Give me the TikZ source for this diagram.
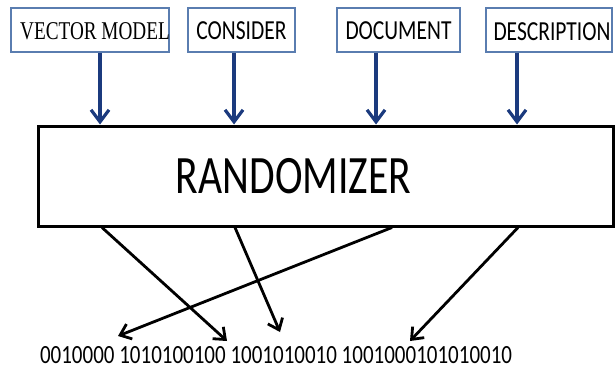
\documentclass[tikz,border=0pt]{standalone}
\usepackage{fontspec}
\setmainfont{Carlito}
\newfontfamily\serifc{Liberation Serif}
\usetikzlibrary{arrows.meta}
\definecolor{boxblue}{HTML}{5A7DB0}
\definecolor{arrblue}{HTML}{1B3A7E}
\newcommand{\toptxt}[1]{\fontsize{21.5}{21.5}\selectfont\scalebox{1}[1.28]{#1}}
\begin{document}
\begin{tikzpicture}[x=1pt,y=-1pt,
  inbox/.style={draw=boxblue,line width=1.5pt,minimum width=#1,minimum height=44pt,inner sep=0pt,text depth=0pt},
  bigbox/.style={draw=black,line width=3pt,minimum width=575pt,minimum height=100pt,inner sep=0pt},
  barrow/.style={draw=arrblue,line width=3.2pt,-{Straight Barb[length=12pt,width=18pt]}},
  karrow/.style={draw=black,line width=2.8pt,-{Straight Barb[length=10pt,width=16pt]}}]
\useasboundingbox (0,0) rectangle (616,369);
% input boxes
\node[inbox=158pt,label={[xshift=5pt,yshift=-1.5pt,inner sep=0pt]center:{\serifc\fontsize{20}{20}\selectfont\scalebox{0.96}[1.28]{VECTOR MODEL}}}] (vm) at (90,30) {};
\node[inbox=107pt] (cs) at (241.5,30) {\raisebox{-1.5pt}{\toptxt{CONSIDER}}};
\node[inbox=123pt] (dc) at (398.5,30) {\raisebox{-1.5pt}{\toptxt{DOCUMENT}}};
\node[inbox=126pt,label={[xshift=3pt,yshift=-1.5pt,inner sep=0pt]center:{\toptxt{DESCRIPTION}}}] (ds) at (549,30) {};
% randomizer
\node[bigbox,label={[xshift=-32pt,inner sep=0pt]center:{\fontsize{41.6}{41.6}\selectfont\scalebox{1}[1.3]{RANDOMIZER}}}] (rz) at (325.5,176) {};
% output bits
\node[inner sep=0pt] (bits) at (276,355) {\fontsize{21}{21}\selectfont\scalebox{1}[1.25]{0010000 1010100100 1001010010 1001000101010010}};
% x positions
\coordinate (t1) at (100,0);
\coordinate (t2) at (234,0);
\coordinate (t3) at (376,0);
\coordinate (t4) at (517,0);
\coordinate (s1) at (102,0);
\coordinate (s2) at (235,0);
\coordinate (s3) at (392,0);
\coordinate (s4) at (518,0);
\coordinate (e1) at (227,341);
\coordinate (e2) at (280,332);
\coordinate (e3) at (118,336);
\coordinate (e4) at (410,341);
% input arrows
\draw[barrow] (vm.south -| t1) -- (rz.north -| t1);
\draw[barrow] (cs.south -| t2) -- (rz.north -| t2);
\draw[barrow] (dc.south -| t3) -- (rz.north -| t3);
\draw[barrow] (ds.south -| t4) -- (rz.north -| t4);
% output arrows
\draw[karrow] (rz.south -| s1) -- (e1);
\draw[karrow] (rz.south -| s2) -- (e2);
\draw[karrow] (rz.south -| s3) -- (e3);
\draw[karrow] (rz.south -| s4) -- (e4);
\end{tikzpicture}
\end{document}
